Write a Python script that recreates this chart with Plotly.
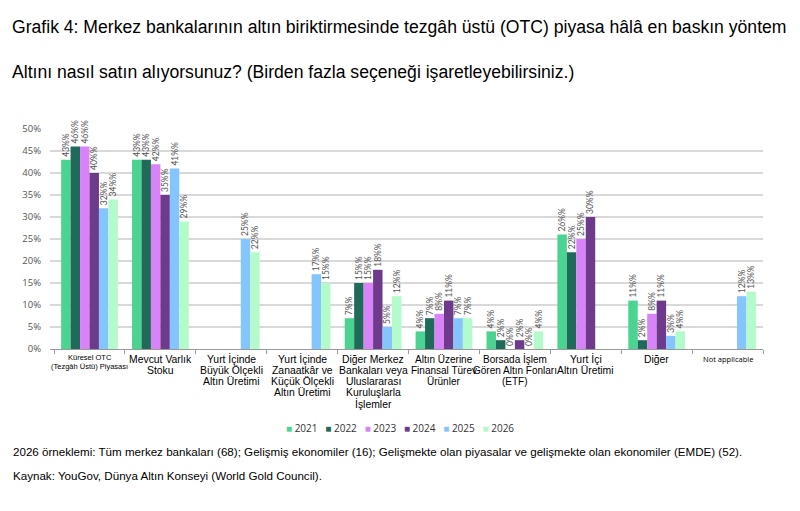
import plotly.graph_objects as go

categories = [
    "Küresel OTC<br>(Tezgâh Üstü) Piyasası",
    "Mevcut Varlık<br>Stoku",
    "Yurt İçinde<br>Büyük Ölçekli<br>Altın Üretimi",
    "Yurt İçinde<br>Zanaatkâr ve<br>Küçük Ölçekli<br>Altın Üretimi",
    "Diğer Merkez<br>Bankaları veya<br>Uluslararası<br>Kuruluşlarla<br>İşlemler",
    "Altın Üzerine<br>Finansal Türev<br>Ürünler",
    "Borsada İşlem<br>Gören Altın Fonları<br>(ETF)",
    "Yurt İçi<br>Altın Üretimi",
    "Diğer",
    "Not applicable",
]
years = ["2021", "2022", "2023", "2024", "2025", "2026"]
v2021 = [43, 43, None, None, 7, 4, 4, 26, 11, None]
v2022 = [46, 43, None, None, 15, 7, 2, 22, 2, None]
v2023 = [46, 42, None, None, 15, 8, 0, 25, 8, None]
v2024 = [40, 35, None, None, 18, 11, 2, 30, 11, None]
v2025 = [32, 41, 25, 17, 5, 7, 0, None, 3, 12]
v2026 = [34, 29, 22, 15, 12, 7, 4, None, 4, 13]
series = [v2021, v2022, v2023, v2024, v2025, v2026]
colors = ["#4BD391", "#1F6A58", "#D883F7", "#6E3A8C", "#84C5FD", "#B4FBCB"]
small_label_cats = {0, 9}

title = "Grafik 4: Merkez bankalarının altın biriktirmesinde tezgâh üstü (OTC) piyasa hâlâ en baskın yöntem"
subtitle = "Altını nasıl satın alıyorsunuz? (Birden fazla seçeneği işaretleyebilirsiniz.)"
note1 = "2026 örneklemi: Tüm merkez bankaları (68); Gelişmiş ekonomiler (16); Gelişmekte olan piyasalar ve gelişmekte olan ekonomiler (EMDE) (52)."
note2 = "Kaynak: YouGov, Dünya Altın Konseyi (World Gold Council)."

fig = go.Figure()
for yr, vals, col in zip(years, series, colors):
    fig.add_trace(go.Bar(
        name=yr, x=categories, y=vals, marker_color=col, marker_line_width=0,
        texttemplate="%{y}%", textposition="outside", textangle=-90,
        constraintext="none", cliponaxis=False,
        textfont=dict(family="Lato", size=8.5, color="#555555"),
    ))

W, H = 800, 511
L, R, T, B = 50, 37, 129, 162
pw, ph = W - L - R, H - T - B

def px(x):
    return (x - L) / pw

def py(y):
    return (H - B - y) / ph

anns = [
    dict(text=title, x=px(10), y=py(27), font=dict(family="Liberation Sans", size=17.6, color="#000000")),
    dict(text=subtitle, x=px(10), y=py(72), font=dict(family="Liberation Sans", size=17.6, color="#000000")),
    dict(text=note1, x=px(11), y=py(451), font=dict(family="Liberation Sans", size=11.6, color="#000000")),
    dict(text=note2, x=px(11), y=py(475), font=dict(family="Liberation Sans", size=11.6, color="#000000")),
]
for a in anns:
    a.update(xref="paper", yref="paper", xanchor="left", yanchor="middle", showarrow=False)

# category labels, one line each for precise line spacing
for i, cat in enumerate(categories):
    lines = cat.split("<br>")
    small = i in small_label_cats
    y0 = 357 if small and len(lines) > 1 else 359
    step = 9 if small else 11.3
    size = 7.5 if small else (10 if i in (5, 6) else 10.4)
    fnt = dict(family="Open Sans" if i == 9 else "Liberation Sans", size=size, color="#000000")
    for j, line in enumerate(lines):
        anns.append(dict(text=line, x=cat, xref="x", y=py(y0 + j * step), yref="paper",
                         xanchor="center", yanchor="middle", showarrow=False, font=fnt,
                         borderpad=0))

nb = "\u00a0"
legend_text = (nb * 3).join(
    f'<span style="color:{c}">■</span>{nb}{y}' for y, c in zip(years, colors)
)
anns.append(dict(text=legend_text, x=px(400), y=py(427.5), xref="paper", yref="paper",
                 xanchor="center", yanchor="middle", showarrow=False,
                 font=dict(family="Open Sans", size=10, color="#333333")))

fig.update_layout(
    width=W, height=H, margin=dict(l=L, r=R, t=T, b=B),
    paper_bgcolor="white", plot_bgcolor="white",
    barmode="group", bargap=0.2, bargroupgap=0,
    showlegend=False, annotations=anns,
    font=dict(family="Liberation Sans", size=10, color="#000000"),
)
fig.update_yaxes(
    range=[0, 50], dtick=5, ticksuffix="%", showgrid=True, gridcolor="#d9d9d9", gridwidth=1.5,
    zeroline=False, showline=False, ticks="", ticklabelstandoff=8,
    tickfont=dict(family="Open Sans", size=9.5, color="#555555"),
)
fig.update_xaxes(
    showline=True, linecolor="#999999", linewidth=1, ticks="outside", tickson="boundaries",
    ticklen=4, tickcolor="#999999", showticklabels=False,
)

fig.write_html("out.html")
